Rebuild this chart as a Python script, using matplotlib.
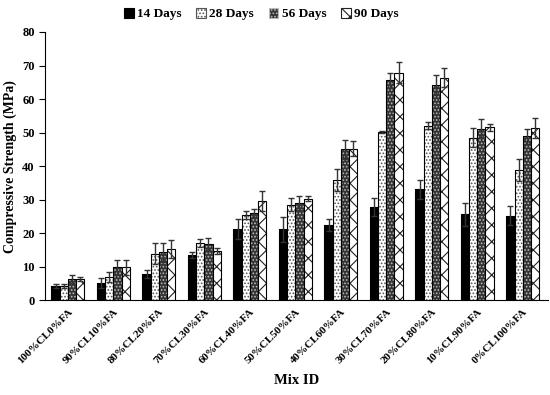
import matplotlib
matplotlib.use("Agg")
import matplotlib.pyplot as plt
import numpy as np

plt.rcParams['font.family'] = ['Liberation Serif', 'DejaVu Serif']
plt.rcParams['hatch.linewidth'] = 0.8

mixes = ["100%CL0%FA", "90%CL10%FA", "80%CL20%FA", "70%CL30%FA", "60%CL40%FA",
         "50%CL50%FA", "40%CL60%FA", "30%CL70%FA", "20%CL80%FA", "10%CL90%FA", "0%CL100%FA"]
series = ["14 Days", "28 Days", "56 Days", "90 Days"]
d14 = [4.2, 5.0, 7.8, 13.5, 21.2, 21.2, 22.3, 27.8, 33.1, 25.6, 25.2]
d28 = [4.2, 7.0, 13.9, 17.0, 25.4, 28.5, 35.8, 50.3, 52.1, 48.5, 38.8]
d56 = [6.3, 9.8, 14.3, 16.8, 26.0, 29.0, 45.0, 65.6, 64.2, 51.2, 48.9]
d90 = [6.3, 9.8, 15.3, 14.7, 29.7, 30.3, 45.2, 67.9, 66.4, 51.6, 51.3]
e14 = [0.6, 1.5, 1.2, 1.0, 3.0, 3.7, 1.8, 2.8, 2.8, 3.5, 2.8]
e28 = [0.7, 1.5, 3.2, 1.2, 1.2, 2.0, 3.3, 0.3, 1.0, 2.8, 3.2]
e56 = [1.2, 2.2, 2.8, 1.8, 1.2, 2.0, 2.8, 2.2, 3.0, 2.8, 2.2]
e90 = [0.5, 2.2, 2.8, 1.0, 3.0, 0.8, 2.3, 3.2, 2.8, 1.0, 2.9]

vals = [d14, d28, d56, d90]
errs = [e14, e28, e56, e90]
styles = [
    dict(face='black', hatch=None, hcol='black'),
    dict(face='white', hatch='.....', hcol='#555555'),
    dict(face='#333333', hatch='.....', hcol='#bbbbbb'),
    dict(face='white', hatch='xx', hcol='#222222'),
]

fig = plt.figure(figsize=(5.5, 3.95), dpi=100)
ax = fig.add_axes([0.082, 0.24, 0.914, 0.679])
x = np.arange(len(mixes))
w = 0.18
handles = []
for i, (v, e, st) in enumerate(zip(vals, errs, styles)):
    pos = x + (i - 1.5) * w
    ax.bar(pos, v, w, color=st['face'], hatch=st['hatch'], edgecolor=st['hcol'], linewidth=0)
    ax.bar(pos, v, w, fill=False, edgecolor='black', linewidth=0.8)
    ax.errorbar(pos, v, yerr=e, fmt='none', ecolor='#333333', elinewidth=1.0, capsize=2.2, capthick=1.0)
    handles.append(plt.Rectangle((0, 0), 1, 1, facecolor=st['face'], hatch=st['hatch'],
                                 edgecolor=st['hcol'], linewidth=0.8))

ax.set_xlim(-0.5, 10.55)
ax.set_ylim(0, 80)
ax.set_yticks(np.arange(0, 81, 10))
ax.set_xticks(x)
ax.set_xticklabels(mixes, rotation=45, ha='right', rotation_mode='anchor', fontsize=8, fontweight='bold')
ax.tick_params(axis='x', length=0, pad=5)
ax.tick_params(axis='y', direction='out', length=4, labelsize=9)
for lbl in ax.get_yticklabels():
    lbl.set_fontweight('bold')
ax.spines['top'].set_visible(False)
ax.spines['right'].set_visible(False)
ax.set_ylabel('Compressive Strength (MPa)', fontsize=10, fontweight='bold')
ax.set_xlabel('Mix ID', fontsize=10.5, fontweight='bold', labelpad=6)

fig.legend(handles, series, loc='upper center', bbox_to_anchor=(0.475, 1.01), ncol=4, frameon=False,
           prop=dict(size=9.5, weight='bold'), handlelength=0.75, handleheight=0.75, handletextpad=0.25,
           columnspacing=1.1)

fig.savefig('out.png', dpi=100)
